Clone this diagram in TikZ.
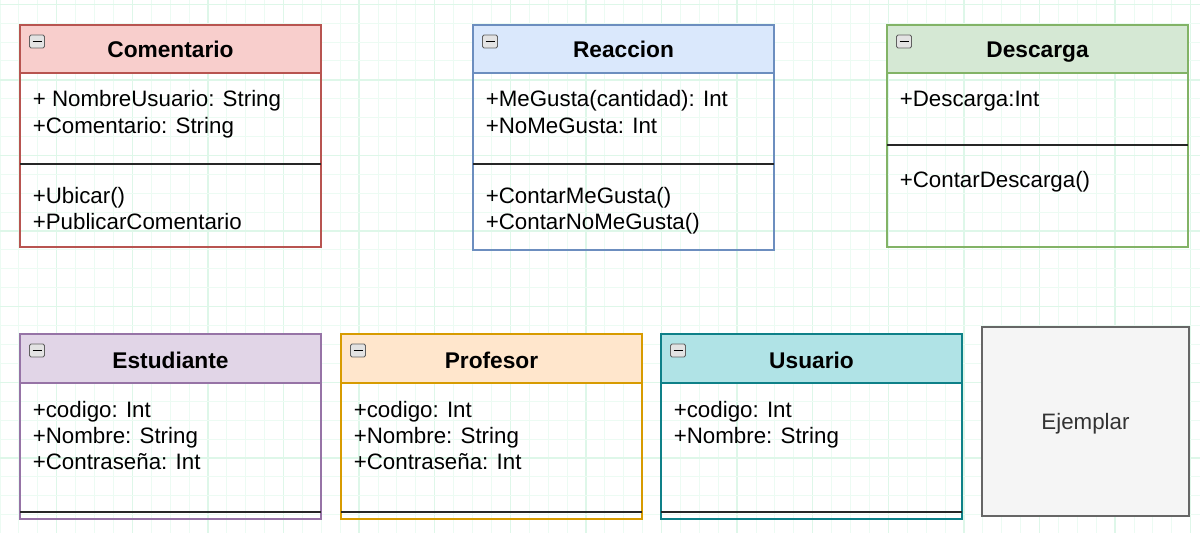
\documentclass[tikz,border=0pt]{standalone}
\usepackage{fontspec}
\setmainfont{Liberation Sans}
\definecolor{gridminor}{RGB}{236,251,243}
\definecolor{gridmajor}{RGB}{222,247,233}
\definecolor{cmF}{HTML}{F8CECC}\definecolor{cmS}{HTML}{B85450}
\definecolor{reF}{HTML}{DAE8FC}\definecolor{reS}{HTML}{6C8EBF}
\definecolor{deF}{HTML}{D5E8D4}\definecolor{deS}{HTML}{82B366}
\definecolor{esF}{HTML}{E1D5E7}\definecolor{esS}{HTML}{9673A6}
\definecolor{prF}{HTML}{FFE6CC}\definecolor{prS}{HTML}{D79B00}
\definecolor{usF}{HTML}{B0E3E6}\definecolor{usS}{HTML}{0E8088}
\definecolor{ejF}{HTML}{F5F5F5}\definecolor{ejS}{HTML}{666666}
\definecolor{ejT}{HTML}{333333}
\begin{document}
\begin{tikzpicture}[x=1bp,y=-1bp,line width=1.6bp,
  box/.style={draw,rectangle,inner sep=0pt,outer sep=0pt,anchor=north west,minimum width=301bp},
  attr/.style={anchor=west,inner sep=0pt,text height=16bp,text depth=0pt,font=\fontsize{22.4}{27}\selectfont},
  ttl/.style={inner sep=0pt,text height=16bp,text depth=0pt,font=\bfseries\fontsize{22.8}{27}\selectfont},
  sepline/.style={draw=black!85,line width=1.8bp},
  icon/.style={draw=gray!75!black,fill=gray!22,rounded corners=1.5bp,minimum width=15bp,minimum height=13bp,inner sep=0pt,outer sep=0pt,line width=0.9bp,anchor=north west},
  minus/.style={draw=black,line width=1.5bp}
]
\useasboundingbox (0,0) rectangle (1200,533);
\fill[white] (0,0) rectangle (1200,533);
% grid
\foreach \i in {0,...,63} {
  \pgfmathsetmacro\xx{\i*18.9}
  \pgfmathtruncatemacro\mm{mod(\i,4)}
  \ifnum\mm=3 \draw[gridmajor,line width=1.3bp] (\xx,0) -- (\xx,533);
  \else \draw[gridminor,line width=1bp] (\xx,0) -- (\xx,533); \fi
}
\foreach \j in {0,...,28} {
  \pgfmathsetmacro\yy{4.3+\j*18.9}
  \pgfmathtruncatemacro\mm{mod(\j,4)}
  \ifnum\mm=0 \draw[gridmajor,line width=1.3bp] (0,\yy) -- (1200,\yy);
  \else \draw[gridminor,line width=1bp] (0,\yy) -- (1200,\yy); \fi
}

% ---------- Comentario ----------
\node[box,draw=cmS,minimum height=222bp] (com) at (20,25) {};
\node[box,draw=cmS,fill=cmF,minimum height=48bp] (comh) at (20,25) {};
\node[ttl] (comt) at (170.5,50) {Comentario};
\node[icon] (comi) at (29.5,35) {};
\draw[minus] ([xshift=3bp]comi.west) -- ([xshift=-3bp]comi.east);
\draw[sepline] ([yshift=-139bp]com.north west) -- ([yshift=-139bp]com.north east);
\node[attr] (coma1) at (32,99) {+ NombreUsuario: String};
\node[attr] (coma2) at (32,126) {+Comentario: String};
\node[attr] (comm1) at (32,196) {+Ubicar()};
\node[attr] (comm2) at (32,222) {+PublicarComentario};

% ---------- Reaccion ----------
\node[box,draw=reS,minimum height=225bp] (rea) at (473,25) {};
\node[box,draw=reS,fill=reF,minimum height=48bp] (reah) at (473,25) {};
\node[ttl] (reat) at (623.5,50) {Reaccion};
\node[icon] (reai) at (482.5,35) {};
\draw[minus] ([xshift=3bp]reai.west) -- ([xshift=-3bp]reai.east);
\draw[sepline] ([yshift=-139bp]rea.north west) -- ([yshift=-139bp]rea.north east);
\node[attr] (reaa1) at (485,99) {+MeGusta(cantidad): Int};
\node[attr] (reaa2) at (485,126) {+NoMeGusta: Int};
\node[attr] (ream1) at (485,196) {+ContarMeGusta()};
\node[attr] (ream2) at (485,222) {+ContarNoMeGusta()};

% ---------- Descarga ----------
\node[box,draw=deS,minimum height=222bp] (des) at (887,25) {};
\node[box,draw=deS,fill=deF,minimum height=48bp] (desh) at (887,25) {};
\node[ttl] (dest) at (1037.5,50) {Descarga};
\node[icon] (desi) at (896.5,35) {};
\draw[minus] ([xshift=3bp]desi.west) -- ([xshift=-3bp]desi.east);
\draw[sepline] ([yshift=-120bp]des.north west) -- ([yshift=-120bp]des.north east);
\node[attr] (desa1) at (899,99) {+Descarga:Int};
\node[attr] (desm1) at (899,180) {+ContarDescarga()};

% ---------- Estudiante ----------
\node[box,draw=esS,minimum height=185bp] (est) at (20,334) {};
\node[box,draw=esS,fill=esF,minimum height=49bp] (esth) at (20,334) {};
\node[ttl] (estt) at (170.5,360) {Estudiante};
\node[icon] (esti) at (29.5,344) {};
\draw[minus] ([xshift=3bp]esti.west) -- ([xshift=-3bp]esti.east);
\draw[sepline] ([yshift=-178bp]est.north west) -- ([yshift=-178bp]est.north east);
\node[attr] (esta1) at (32,409) {+codigo: Int};
\node[attr] (esta2) at (32,435) {+Nombre: String};
\node[attr] (esta3) at (32,461) {+Contraseña: Int};

% ---------- Profesor ----------
\node[box,draw=prS,minimum height=185bp] (pro) at (341,334) {};
\node[box,draw=prS,fill=prF,minimum height=49bp] (proh) at (341,334) {};
\node[ttl] (prot) at (491.5,360) {Profesor};
\node[icon] (proi) at (350.5,344) {};
\draw[minus] ([xshift=3bp]proi.west) -- ([xshift=-3bp]proi.east);
\draw[sepline] ([yshift=-178bp]pro.north west) -- ([yshift=-178bp]pro.north east);
\node[attr] (proa1) at (353,409) {+codigo: Int};
\node[attr] (proa2) at (353,435) {+Nombre: String};
\node[attr] (proa3) at (353,461) {+Contraseña: Int};

% ---------- Usuario ----------
\node[box,draw=usS,minimum height=185bp] (usu) at (661,334) {};
\node[box,draw=usS,fill=usF,minimum height=49bp] (usuh) at (661,334) {};
\node[ttl] (usut) at (811.5,360) {Usuario};
\node[icon] (usui) at (670.5,344) {};
\draw[minus] ([xshift=3bp]usui.west) -- ([xshift=-3bp]usui.east);
\draw[sepline] ([yshift=-178bp]usu.north west) -- ([yshift=-178bp]usu.north east);
\node[attr] (usua1) at (673,409) {+codigo: Int};
\node[attr] (usua2) at (673,435) {+Nombre: String};

% ---------- Ejemplar ----------
\node[box,draw=ejS,fill=ejF,minimum width=207bp,minimum height=189bp,line width=2bp] (eje) at (982,327) {};
\node[attr,anchor=center,text=ejT] (ejet) at (eje.center) {Ejemplar};
\end{tikzpicture}
\end{document}
